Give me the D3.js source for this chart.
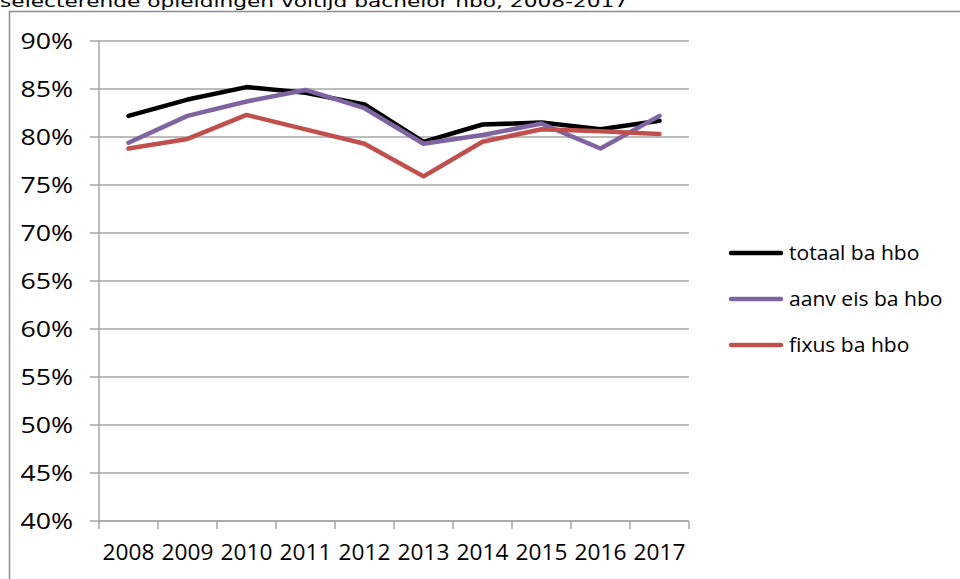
<!DOCTYPE html>
<html><head><meta charset="utf-8">
<script src="https://cdn.jsdelivr.net/npm/d3@7"></script>
<style>
html,body{margin:0;padding:0;background:#fff;}
svg{display:block;}
</style></head>
<body>
<svg id="chart" width="960" height="579"></svg>
<script>
const title = "selecterende opleidingen voltijd bachelor hbo, 2008-2017";
const years = ["2008","2009","2010","2011","2012","2013","2014","2015","2016","2017"];
const yTicks = [0.40,0.45,0.50,0.55,0.60,0.65,0.70,0.75,0.80,0.85,0.90];
const seriesNames = ["totaal ba hbo","aanv eis ba hbo","fixus ba hbo"];
const seriesColors = ["#000000","#8064a2","#c0504d"];
const totaal = [0.822,0.839,0.852,0.846,0.834,0.795,0.813,0.815,0.808,0.817];
const aanvEis = [0.794,0.822,0.837,0.849,0.830,0.793,0.802,0.814,0.788,0.822];
const fixus = [0.788,0.798,0.823,0.808,0.793,0.759,0.795,0.808,0.806,0.803];
const seriesValues = [totaal, aanvEis, fixus];

(function(){
const svg = d3.select("#chart");
const font = "'Open Sans', sans-serif";

// horizontally widen text (reference glyphs are wide relative to their height)
function widen(sel, k){
  sel.each(function(){
    const w = this.getComputedTextLength();
    d3.select(this).attr("textLength", w*k).attr("lengthAdjust","spacingAndGlyphs");
  });
}

// outer frame
svg.append("path").attr("d","M9.5,579 L9.5,11.5 L960,11.5")
  .attr("fill","none").attr("stroke","#8c8c8c").attr("stroke-width",1.5);

// title (clipped at top as in the reference)
svg.append("text").attr("x",0).attr("y",7)
  .attr("font-family","'DejaVu Sans', Verdana, sans-serif").attr("font-size",16)
  .attr("fill","#000")
  .attr("textLength",628).attr("lengthAdjust","spacingAndGlyphs")
  .text(title);

const pL = 99, pR = 689, pT = 41, pB = 521;
const x = d3.scaleBand().domain(years).range([pL,pR]).padding(0);
const y = d3.scaleLinear().domain([0.40,0.90]).range([pB,pT]);

// gridlines
svg.append("g").selectAll("line").data(yTicks).join("line")
  .attr("x1",pL-9).attr("x2",pR)
  .attr("y1",d=>y(d)).attr("y2",d=>y(d))
  .attr("stroke","#a6a6a6").attr("stroke-width",1.5);

// y axis line
svg.append("line").attr("x1",pL).attr("x2",pL).attr("y1",pT).attr("y2",pB)
  .attr("stroke","#a6a6a6").attr("stroke-width",1.5);

// y labels
const yl = svg.append("g").selectAll("text").data(yTicks).join("text")
  .attr("x",73).attr("y",d=>y(d)+7.5)
  .attr("text-anchor","end").attr("font-family",font).attr("font-size",21)
  .attr("fill","#000")
  .text(d=>d3.format(".0%")(d));
widen(yl, 1.27);

// x axis
const xAxis = d3.axisBottom(x).tickSize(8).tickFormat(d=>d);
const gx = svg.append("g").attr("transform",`translate(0,${pB})`).call(xAxis);
gx.select(".domain").remove();
gx.selectAll(".tick line").remove();
gx.append("line").attr("x1",pL).attr("x2",pR).attr("stroke","#a6a6a6").attr("stroke-width",1.5);
const bounds = years.map(d=>x(d)).concat([pR]);
gx.selectAll("line.b").data(bounds).join("line").attr("class","b")
  .attr("x1",d=>d).attr("x2",d=>d).attr("y1",0).attr("y2",8)
  .attr("stroke","#a6a6a6").attr("stroke-width",1.5);
const xl = gx.selectAll(".tick text").attr("y",24).attr("dy","0.71em")
  .attr("font-family",font).attr("font-size",21).attr("fill","#000");
widen(xl, 1.08);

// lines
const line = d3.line().x((d,i)=>x(years[i])+x.bandwidth()/2).y(d=>y(d));
seriesValues.forEach((vals,k)=>{
  svg.append("path").datum(vals).attr("d",line)
    .attr("fill","none").attr("stroke",seriesColors[k]).attr("stroke-width",4.5)
    .attr("stroke-linejoin","round").attr("stroke-linecap","round");
});

// legend
const lg = svg.append("g");
seriesNames.forEach((n,k)=>{
  const yy = 253 + k*46;
  lg.append("line").attr("x1",731).attr("x2",781).attr("y1",yy).attr("y2",yy)
    .attr("stroke",seriesColors[k]).attr("stroke-width",4.5).attr("stroke-linecap","round");
  const t = lg.append("text").attr("x",789).attr("y",yy+7).attr("font-family",font).attr("font-size",19.5)
    .attr("fill","#000").text(n);
  widen(t, 1.08);
});
})();
</script>
</body></html>
